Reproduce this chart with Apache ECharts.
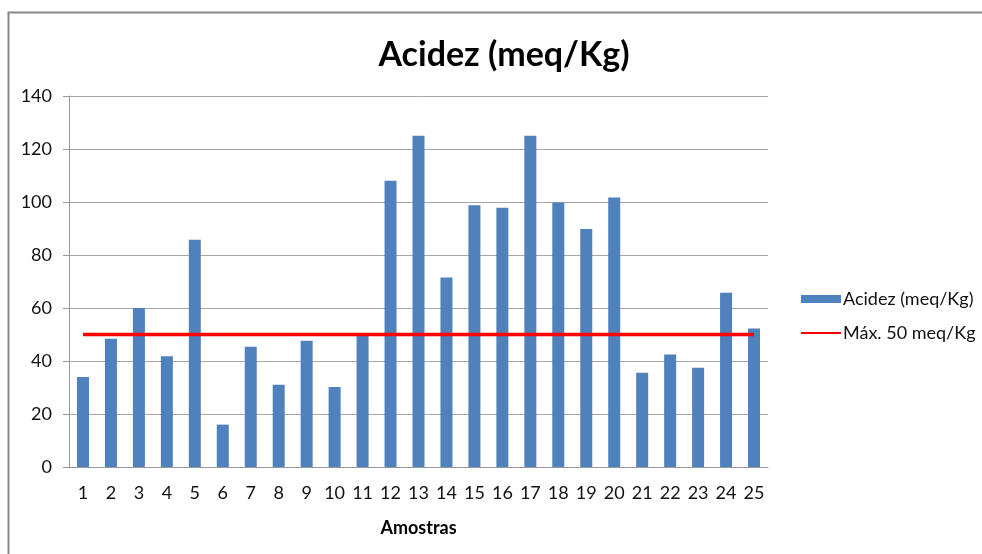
<!DOCTYPE html>
<html>
<head>
<meta charset="utf-8">
<script src="https://cdn.jsdelivr.net/npm/echarts@6/dist/echarts.min.js"></script>
<style>
  html, body { margin: 0; padding: 0; background: #fff; }
  #chart { width: 982px; height: 554px; }
</style>
</head>
<body>
<div id="chart"></div>
<script>
const amostras = ["1", "2", "3", "4", "5", "6", "7", "8", "9", "10", "11", "12", "13",
  "14", "15", "16", "17", "18", "19", "20", "21", "22", "23", "24", "25"];
const acidez = [34, 48.4, 60, 41.8, 85.8, 16, 45.4, 31, 47.6, 30.2, 49.7, 108, 125,
  71.5, 98.8, 97.8, 125, 99.8, 89.8, 101.7, 35.6, 42.5, 37.5, 65.8, 52.3];
const maximo = amostras.map(() => 50);

const font = "Lato";
const chart = echarts.init(document.getElementById("chart"));

const options = {
  animation: false,
  backgroundColor: "#fff",
  title: {
    text: "Acidez (meq/Kg)",
    left: 499,
    textAlign: "center",
    top: 33,
    textStyle: { fontFamily: font, fontWeight: "bold", fontSize: 34, color: "#000" },
  },
  graphic: [
    {
      type: "rect",
      shape: { x: 8.5, y: 12.5, width: 1000, height: 600 },
      style: { fill: "none", stroke: "#888", lineWidth: 2 },
      silent: true,
    },
  ],
  legend: {
    orient: "vertical",
    left: 800,
    top: 290,
    padding: 0,
    itemWidth: 40,
    itemHeight: 8,
    itemGap: 16,
    textStyle: { fontFamily: font, fontSize: 18, color: "#111", padding: [0, 0, 0, -3] },
    data: [
      { name: "Acidez (meq/Kg)", icon: "rect" },
      { name: "Máx. 50 meq/Kg", itemStyle: { color: "rgba(0,0,0,0)", borderWidth: 0 } },
    ],
  },
  grid: { left: 69, top: 96, width: 699, height: 371 },
  xAxis: {
    type: "category",
    data: amostras,
    name: "Amostras",
    nameLocation: "middle",
    nameGap: 52,
    nameTextStyle: { fontFamily: font, fontWeight: "bold", fontSize: 18, color: "#000" },
    axisLine: { lineStyle: { color: "#999", width: 1 } },
    axisTick: { length: 6, lineStyle: { color: "#999" } },
    axisLabel: { fontFamily: font, fontSize: 18, color: "#111", margin: 17 },
  },
  yAxis: {
    type: "value",
    min: 0,
    max: 140,
    interval: 20,
    axisLine: { show: true, lineStyle: { color: "#999", width: 1 } },
    axisTick: { show: true, length: 6, lineStyle: { color: "#999" } },
    axisLabel: { fontFamily: font, fontSize: 18, color: "#111", margin: 17 },
    splitLine: { lineStyle: { color: "#a6a6a6", width: 1 } },
  },
  series: [
    {
      name: "Acidez (meq/Kg)",
      type: "bar",
      data: acidez,
      barWidth: 12,
      itemStyle: { color: "#4F81BD" },
    },
    {
      name: "Máx. 50 meq/Kg",
      type: "line",
      data: maximo,
      symbol: "none",
      lineStyle: { color: "#FF0000", width: 3.5 },
      itemStyle: { color: "#FF0000" },
    },
  ],
};

chart.setOption(options);
</script>
</body>
</html>
